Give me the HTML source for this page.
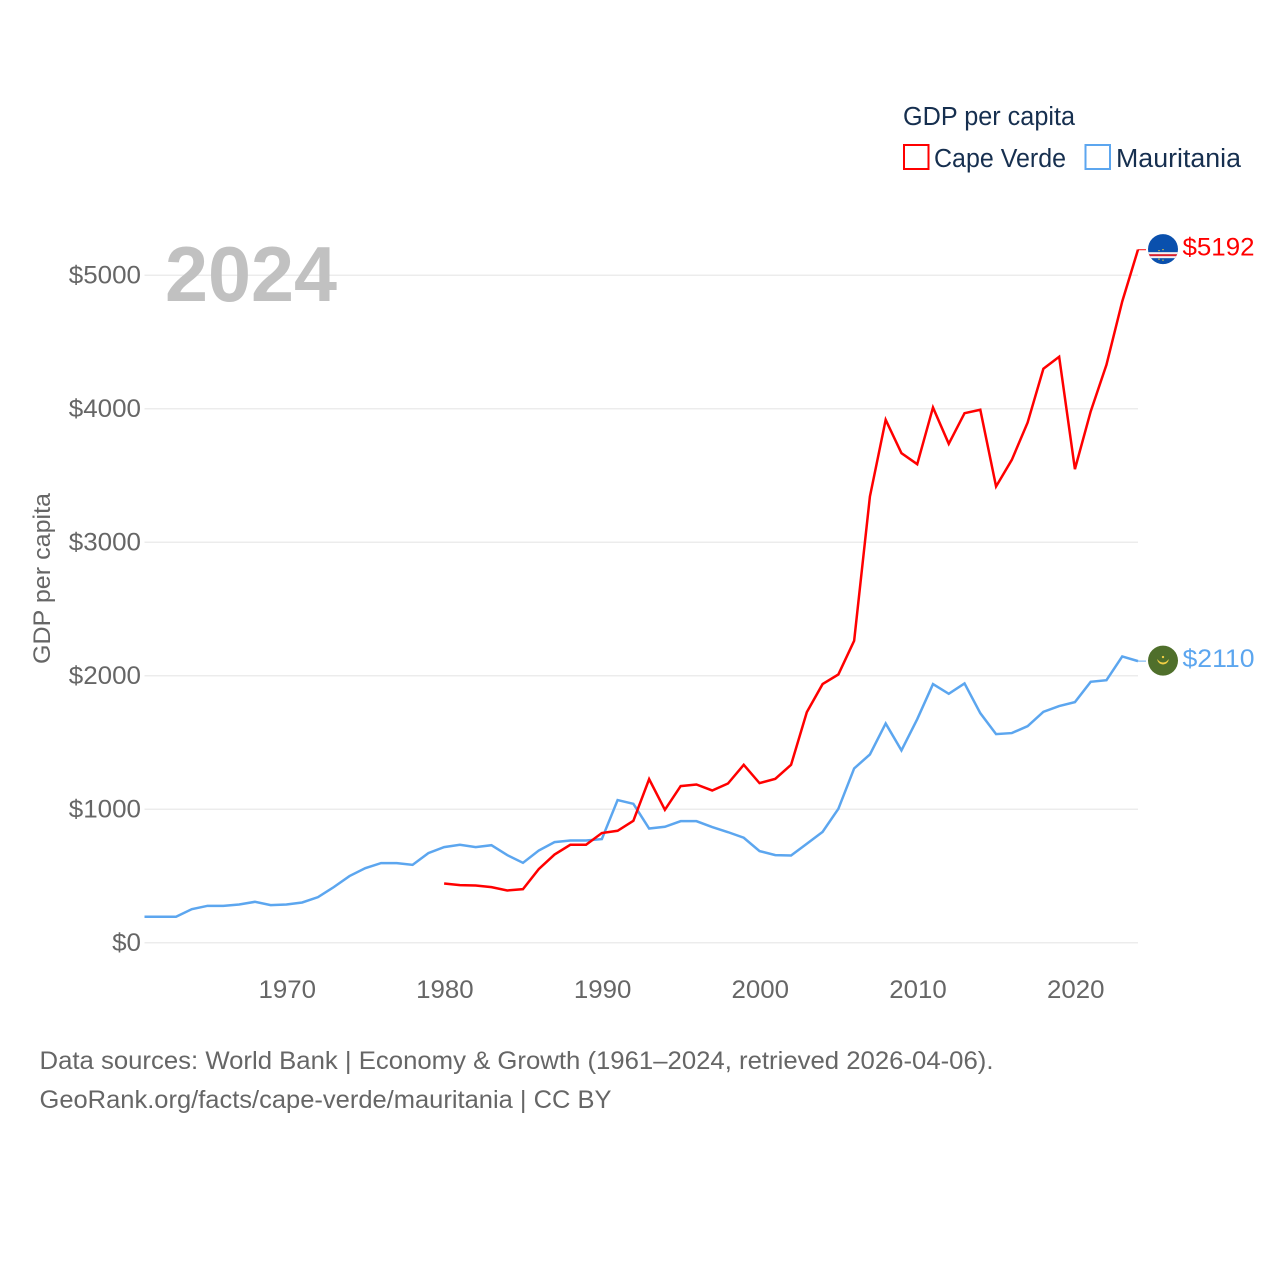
<!DOCTYPE html>
<html lang="en">
<head>
<meta charset="utf-8">
<title>GDP per capita: Cape Verde and Mauritania</title>
<style>
html,body{margin:0;padding:0;background:#fff;}
svg{display:block;}
text{font-family:"Liberation Sans",sans-serif;}
</style>
</head>
<body>
<svg id="chart" xmlns="http://www.w3.org/2000/svg" width="1280" height="1280" viewBox="0 0 1280 1280">
  <rect x="0" y="0" width="1280" height="1280" fill="#fff"/>
  <g id="grid"></g>
  <g id="yticks"></g>
  <g id="xticks"></g>
  <text x="165" y="301" font-size="78" font-weight="700" fill="#c1c1c1" textLength="172" lengthAdjust="spacingAndGlyphs">2024</text>
  <text transform="translate(50,664) rotate(-90)" font-size="24" fill="#666" textLength="171" lengthAdjust="spacingAndGlyphs">GDP per capita</text>
  <g id="series"></g>
  <g id="flag-cv">
    <clipPath id="clip-cv"><circle cx="0" cy="0" r="15"/></clipPath>
    <g clip-path="url(#clip-cv)">
      <rect x="-16" y="-16" width="32" height="32" fill="#0a50ad"/>
      <rect x="-16" y="3" width="32" height="6" fill="#f3f3f3"/>
      <rect x="-16" y="5" width="32" height="2" fill="#d8202f"/>
      <circle cx="-4" cy="1.5" r="0.7" fill="#f5cf3a"/>
      <circle cx="0" cy="0.5" r="0.7" fill="#f5cf3a"/>
      <circle cx="-4" cy="10" r="0.7" fill="#f5cf3a"/>
      <circle cx="0" cy="11" r="0.7" fill="#f5cf3a"/>
    </g>
  </g>
  <g id="flag-mr">
    <circle cx="0" cy="0" r="15" fill="#4f6f2b"/>
    <path d="M-5.5 -1 A5.6 5.6 0 0 0 5.5 -1 A6.4 6.4 0 0 1 -5.5 -1 Z" fill="#f2cf45" stroke="#f2cf45" stroke-width="0.6"/>
    <circle cx="0" cy="-3.6" r="1.2" fill="#f2cf45"/>
  </g>
  <g id="end-labels"></g>

  <g>
    <text x="903" y="125" font-size="25.5" fill="#162f4f" textLength="172" lengthAdjust="spacingAndGlyphs">GDP per capita</text>
    <g>
      <rect x="904" y="145" width="24.5" height="24" fill="#fff" stroke="#ff0000" stroke-width="2"/>
      <text x="934" y="167" font-size="25.5" fill="#162f4f" textLength="132" lengthAdjust="spacingAndGlyphs">Cape Verde</text>
    </g>
    <g>
      <rect x="1085.5" y="145" width="24.5" height="24" fill="#fff" stroke="#5ca6ef" stroke-width="2"/>
      <text x="1116" y="167" font-size="25.5" fill="#162f4f" textLength="125" lengthAdjust="spacingAndGlyphs">Mauritania</text>
    </g>
  </g>

  <text x="39.5" y="1069" font-size="25" fill="#666" textLength="954" lengthAdjust="spacingAndGlyphs">Data sources: World Bank | Economy &amp; Growth (1961–2024, retrieved 2026-04-06).</text>
  <text x="39.5" y="1108" font-size="25" fill="#666" textLength="572" lengthAdjust="spacingAndGlyphs">GeoRank.org/facts/cape-verde/mauritania | CC BY</text>
</svg>
<script>
const yTickValues = [0, 1000, 2000, 3000, 4000, 5000];
const xTickYears = [1970, 1980, 1990, 2000, 2010, 2020];
const firstYear = 1961;
const lastYear = 2024;
const mauritaniaStartYear = 1961;
const capeVerdeStartYear = 1980;
const mauritaniaValues = [195,195,195,252,277,277,287,307,282,287,302,342,417,500,559,597,597,584,672,717,734,717,731,657,599,691,754,766,766,777,1069,1041,856,869,911,911,867,829,787,687,657,654,742,831,1004,1306,1411,1643,1441,1675,1938,1865,1943,1720,1563,1571,1623,1730,1773,1803,1955,1967,2145,2110];
const capeVerdeValues = [444,432,429,417,392,402,552,661,734,734,822,839,914,1226,996,1174,1186,1141,1193,1333,1196,1228,1333,1728,1938,2010,2262,3343,3918,3668,3585,4010,3738,3967,3993,3418,3618,3897,4300,4390,3548,3980,4330,4804,5192];

const NS = 'http://www.w3.org/2000/svg';
const plotLeft = 144.5, plotRight = 1138, plotBottom = 942.8, pxPerUnit = 0.1335;
const RED = '#ff0000', BLUE = '#5ca6ef';
function xScale(year){ return plotLeft + (year - firstYear) * (plotRight - plotLeft) / (lastYear - firstYear); }
function yScale(v){ return plotBottom - v * pxPerUnit; }
function make(tag, attrs, parent){
  const el = document.createElementNS(NS, tag);
  for (const k in attrs) el.setAttribute(k, attrs[k]);
  parent.appendChild(el);
  return el;
}

const gridG = document.getElementById('grid');
const yG = document.getElementById('yticks');
yTickValues.forEach(function(v){
  const line = make('line', {x1: plotLeft, x2: plotRight, y1: yScale(v), y2: yScale(v), stroke: '#ececec', 'stroke-width': 1.5}, gridG);
  
  
  const label = '$' + v;
  const t = make('text', {x: 141, y: yScale(v) + 8, 'text-anchor': 'end', 'font-size': 25, fill: '#666', textLength: label.length * 14.45, lengthAdjust: 'spacingAndGlyphs'}, yG);
  t.textContent = label;
  
  
});

const xG = document.getElementById('xticks');
xTickYears.forEach(function(year){
  const t = make('text', {x: xScale(year) + 0.8, y: 998, 'text-anchor': 'middle', 'font-size': 25, fill: '#666', textLength: 57.5, lengthAdjust: 'spacingAndGlyphs'}, xG);
  t.textContent = String(year);
  
  
});

function pointsFor(values, startYear){
  return values.map(function(v, i){ return xScale(startYear + i).toFixed(2) + ',' + yScale(v).toFixed(2); }).join(' ');
}
const seriesG = document.getElementById('series');
const endG = document.getElementById('end-labels');
const flagX = 1163;
function drawSeries(values, startYear, color, lineName, connectorName, labelName, flagId){
  const end = values[values.length - 1];
  const endY = yScale(end);
  const connector = make('line', {x1: plotRight, x2: 1146, y1: endY, y2: endY, stroke: color, 'stroke-width': 1.2, opacity: 0.8}, seriesG);
  
  
  const line = make('polyline', {points: pointsFor(values, startYear), fill: 'none', stroke: color, 'stroke-width': 2.5, 'stroke-linejoin': 'miter'}, seriesG);
  
  
  document.getElementById(flagId).setAttribute('transform', 'translate(' + flagX + ',' + (endY - 0.5) + ')');
  const t = make('text', {x: 1182.5, y: endY + 6, 'font-size': 25, fill: color, textLength: 72, lengthAdjust: 'spacingAndGlyphs'}, endG);
  t.textContent = '$' + end;
  
  
}
drawSeries(mauritaniaValues, mauritaniaStartYear, BLUE, 'mauritania-line', 'mauritania-connector', 'mauritania-end-label', 'flag-mr');
drawSeries(capeVerdeValues, capeVerdeStartYear, RED, 'cape-verde-line', 'cape-verde-connector', 'cape-verde-end-label', 'flag-cv');
</script>
</body>
</html>
